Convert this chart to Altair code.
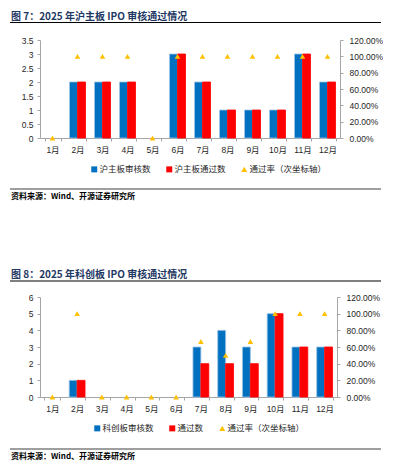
import altair as alt
import pandas as pd

months = ["1月", "2月", "3月", "4月", "5月", "6月", "7月", "8月", "9月", "10月", "11月", "12月"]

# Figure 7: SSE main board
sh_review = [0, 2, 2, 2, 0, 3, 2, 1, 1, 1, 3, 2]
sh_pass = [0, 2, 2, 2, 0, 3, 2, 1, 1, 1, 3, 2]
sh_rate = [0, 1.0, 1.0, 1.0, 0, 1.0, 1.0, 1.0, 1.0, 1.0, 1.0, 1.0]
sh_names = ["沪主板审核数", "沪主板通过数", "通过率（次坐标轴）"]
sh_title = "图 7：2025 年沪主板 IPO 审核通过情况"

# Figure 8: STAR market
kc_review = [0, 1, 0, 0, 0, 0, 3, 4, 3, 5, 3, 3]
kc_pass = [0, 1, 0, 0, 0, 0, 2, 2, 2, 5, 3, 3]
kc_rate = [0, 1.0, 0, 0, 0, 0, 0.6667, 0.5, 0.6667, 1.0, 1.0, 1.0]
kc_names = ["科创板审核数", "通过数", "通过率（次坐标轴）"]
kc_title = "图 8：2025 年科创板 IPO 审核通过情况"

source = "资料来源：Wind、开源证券研究所"

sh_left_ticks = [0, 0.5, 1, 1.5, 2, 2.5, 3, 3.5]
kc_left_ticks = [0, 1, 2, 3, 4, 5, 6]
right_ticks = [0, 0.2, 0.4, 0.6, 0.8, 1.0, 1.2]

BLUE = "#0070C0"
RED = "#FF0000"
GOLD = "#FFC000"
NAVY = "#1F3864"
AXIS = "#A6A6A6"
FONT = "Liberation Sans, Noto Sans CJK SC"
CJK = "Noto Sans CJK SC"


def panel(review, passed, rate, names, ymax, yticks, title, width, height, geo):
    bars = pd.DataFrame({
        "month": months + months,
        "series": [names[0]] * 12 + [names[1]] * 12,
        "value": review + passed,
    })
    pts = pd.DataFrame({"month": months, "series": [names[2]] * 12, "rate": rate})
    color_scale = alt.Scale(domain=names, range=[BLUE, RED, GOLD])
    shape_scale = alt.Scale(domain=names, range=["square", "square", "triangle-up"])
    legend = alt.Legend(
        title=None, orient="none", legendX=geo["lx"], legendY=geo["ly"],
        direction="horizontal", padding=0, labelFont=FONT, labelFontSize=8.5,
        labelColor="#262626", symbolSize=36, symbolStrokeWidth=0, labelOffset=1,
        columnPadding=14,
    )
    xenc = alt.X(
        "month:N", sort=months,
        scale=alt.Scale(domain=months, paddingInner=0.36, paddingOuter=0.18),
        axis=alt.Axis(title=None, labelAngle=0, tickBand="extent", labelPadding=4),
    )
    bar = alt.Chart(bars).transform_filter(alt.datum.value > 0).mark_bar(strokeWidth=0.8).encode(
        x=xenc,
        xOffset=alt.XOffset("series:N", sort=names[:2],
                            scale=alt.Scale(domain=names[:2], paddingInner=0, paddingOuter=0)),
        y=alt.Y("value:Q", scale=alt.Scale(domain=[0, ymax], nice=False),
                axis=alt.Axis(title=None, orient="left", values=yticks, format="~g",
                              grid=False, labelPadding=4)),
        color=alt.Color("series:N", scale=color_scale, legend=legend),
        stroke=alt.condition(alt.datum.series == names[0], alt.value("#9DC3E6"), alt.value(RED)),
    )
    pt = alt.Chart(pts).mark_point(filled=True, size=32, opacity=1).encode(
        x=alt.X("month:N", sort=months),
        y=alt.Y("rate:Q", scale=alt.Scale(domain=[0, 1.2], nice=False),
                axis=alt.Axis(title=None, orient="right", values=right_ticks, format=".2%",
                              grid=False, labelPadding=6)),
        color=alt.Color("series:N", scale=color_scale, legend=legend),
        shape=alt.Shape("series:N", scale=shape_scale, legend=legend),
    )
    one = pd.DataFrame({"t": [title]})
    src = pd.DataFrame({"t": [source]})
    t_title = alt.Chart(one).mark_text(
        align="left", baseline="middle", font=CJK, fontSize=10, fontWeight="bold", color=NAVY
    ).encode(x=alt.value(geo["tx"]), y=alt.value(geo["ty"]), text="t:N")
    r_black = alt.Chart(one).mark_rule(color="#000000", strokeWidth=1.2).encode(
        x=alt.value(geo["x0"]), x2=alt.value(geo["x1"]), y=alt.value(geo["by"]))
    r_gray = alt.Chart(one).mark_rule(color="#7F7F7F", strokeWidth=1.6).encode(
        x=alt.value(geo["x0"]), x2=alt.value(geo["x1"]), y=alt.value(geo["gy"]))
    t_src = alt.Chart(src).mark_text(
        align="left", baseline="middle", font=CJK, fontSize=8, fontWeight="bold", color="#000000"
    ).encode(x=alt.value(geo["tx"]), y=alt.value(geo["sy"]), text="t:N")
    return alt.layer(bar, pt, t_title, r_black, r_gray, t_src).resolve_scale(
        y="independent").properties(width=width, height=height)


c1 = panel(sh_review, sh_pass, sh_rate, sh_names, 3.5, sh_left_ticks, sh_title, 300, 98,
           dict(tx=-29, ty=-23, x0=-30, x1=341, by=-17.5, lx=50, ly=125, gy=149, sy=157))
c2 = panel(kc_review, kc_pass, kc_rate, kc_names, 6, kc_left_ticks, kc_title, 297, 100,
           dict(tx=-29, ty=-22, x0=-30, x1=341, by=-16, lx=53, ly=127, gy=152, sy=160))

chart = alt.vconcat(c1, c2, spacing=159, bounds="flush").resolve_scale(
    color="independent", shape="independent", x="independent", xOffset="independent"
).resolve_legend(color="independent", shape="independent").properties(
    padding={"left": 1, "top": 4, "right": 0, "bottom": 0}
).configure_view(stroke=None).configure_axis(
    domainColor=AXIS, tickColor=AXIS, tickSize=3, labelFont=FONT, labelFontSize=8.5,
    labelColor="#262626", domainWidth=1,
)

chart.save("out.html", embed_options={"renderer": "svg", "actions": False})
